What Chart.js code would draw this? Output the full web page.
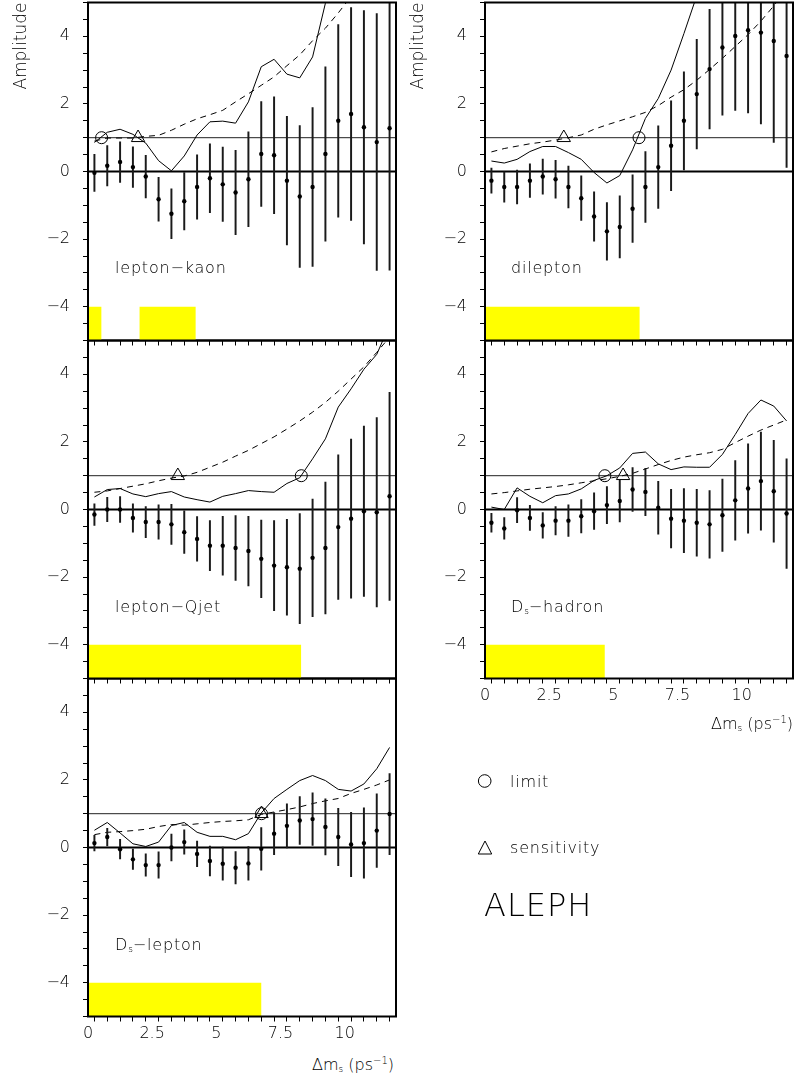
<!DOCTYPE html>
<html><head><meta charset="utf-8">
<script src="https://cdn.jsdelivr.net/npm/chart.js@4.4.1/dist/chart.umd.min.js"></script>
<style>
html,body{margin:0;padding:0;background:#fff;}
body{width:794px;height:1074px;position:relative;overflow:hidden;font-family:"DejaVu Sans",sans-serif;font-weight:200;color:#000;}
canvas{position:absolute;}
.lbl{position:absolute;font-size:16px;white-space:nowrap;letter-spacing:0.8px;line-height:16px;}
.lbl sub{font-size:9px;vertical-align:-2px;letter-spacing:0;}
.axt{position:absolute;font-size:16px;white-space:nowrap;line-height:16px;text-align:right;}
.axt sub{font-size:9px;vertical-align:-2px;}
.axt sup{font-size:10px;vertical-align:6px;}
.aleph{position:absolute;font-size:32px;line-height:32px;letter-spacing:1px;}
svg{position:absolute;overflow:visible;}
</style></head><body>

<div class="lbl" style="left:115px;top:260px">lepton−kaon</div>
<div class="lbl" style="left:511px;top:260px">dilepton</div>
<div class="lbl" style="left:115px;top:599px">lepton−Qjet</div>
<div class="lbl" style="left:511px;top:599px">D<sub>s</sub>−hadron</div>
<div class="lbl" style="left:115px;top:937px">D<sub>s</sub>−lepton</div>

<div class="axt" style="right:1px;top:712px">Δm<sub>s</sub> (ps<sup>−1</sup>)</div>
<div class="axt" style="right:400px;top:1053px">Δm<sub>s</sub> (ps<sup>−1</sup>)</div>

<svg style="left:0;top:0" width="794" height="1074">
  <circle cx="484.7" cy="781" r="6.3" fill="none" stroke="#000" stroke-width="1"/>
  <polygon points="485,841 478.3,854 491.7,854" fill="none" stroke="#000" stroke-width="1"/>
</svg>
<div class="lbl" style="left:510px;top:774px">limit</div>
<div class="lbl" style="left:510px;top:840px">sensitivity</div>
<div class="aleph" style="left:484px;top:889px">ALEPH</div>

<script>
// ---- data ----
const dms = [0.25,0.75,1.25,1.75,2.25,2.75,3.25,3.75,4.25,4.75,5.25,5.75,6.25,6.75,7.25,7.75,8.25,8.75,9.25,9.75,10.25,10.75,11.25,11.75];
const xTickValues = [0, 2.5, 5, 7.5, 10];
const xTickLabels = ['0', '2.5', '5', '7.5', '10'];
const yTickValues = [-4, -2, 0, 2, 4];
const yTickLabels = ['\u22124', '\u22122', '0', '2', '4'];

// lepton-kaon
const lkAmp   = [-0.04,0.17,0.28,0.13,-0.15,-0.82,-1.25,-0.88,-0.46,-0.20,-0.38,-0.62,-0.23,0.52,0.48,-0.27,-0.74,-0.46,0.52,1.50,1.70,1.31,0.87,1.28];
const lkErr   = [0.55,0.60,0.60,0.60,0.63,0.65,0.74,0.85,0.95,1.02,1.10,1.25,1.40,1.55,1.73,1.90,2.10,2.35,2.58,2.85,3.15,3.45,3.80,4.20];
const lkUpper = [0.86,1.16,1.25,1.10,0.84,0.32,0.02,0.46,1.08,1.47,1.49,1.43,2.06,3.10,3.32,2.88,2.77,3.39,4.98,6.20,6.90,7.00,7.10,8.20];
const lkSens  = [0.90,0.99,0.99,0.99,1.04,1.07,1.22,1.40,1.56,1.68,1.81,2.06,2.30,2.55,2.80,3.13,3.45,3.87,4.24,4.69,5.18,5.68,6.25,6.91];
const lkMarks = [0.53, 1.95];            // limit, sensitivity
const lkExcluded = [[0, 0.53], [2.0, 4.2]];

// dilepton
const dlAmp   = [-0.27,-0.46,-0.46,-0.27,-0.15,-0.23,-0.46,-0.79,-1.33,-1.77,-1.64,-1.10,-0.46,0.13,0.76,1.50,2.29,3.03,3.67,4.01,4.18,4.11,3.86,3.42];
const dlErr   = [0.37,0.45,0.50,0.50,0.52,0.56,0.62,0.66,0.73,0.85,0.92,1.00,1.05,1.22,1.33,1.45,1.62,1.77,2.00,2.20,2.45,2.70,3.00,3.30];
const dlUpper = [0.31,0.25,0.36,0.59,0.74,0.74,0.56,0.36,-0.03,-0.34,-0.12,0.64,1.57,2.16,3.00,4.08,5.20,5.94,6.96,7.60,8.20,8.50,8.80,8.85];
const dlSens  = [0.58,0.68,0.75,0.82,0.87,0.93,1.00,1.08,1.25,1.38,1.50,1.62,1.75,1.95,2.20,2.42,2.70,3.02,3.35,3.70,4.05,4.45,4.90,5.40];
const dlMarks = [6.0, 3.07];
const dlExcluded = [[0, 6.03]];

// lepton-Qjet
const lqAmp   = [-0.15,0.00,0.00,-0.25,-0.37,-0.37,-0.44,-0.67,-0.87,-1.07,-1.07,-1.14,-1.23,-1.46,-1.66,-1.71,-1.75,-1.43,-1.14,-0.52,-0.27,-0.05,-0.08,0.39];
const lqErr   = [0.32,0.36,0.38,0.42,0.46,0.51,0.59,0.63,0.66,0.74,0.87,0.96,1.03,1.15,1.33,1.42,1.63,1.74,1.95,2.14,2.35,2.52,2.80,3.08];
const lqUpper = [0.37,0.59,0.62,0.46,0.38,0.47,0.53,0.37,0.29,0.22,0.39,0.47,0.56,0.53,0.51,0.77,0.94,1.50,2.09,3.03,3.57,4.15,4.59,5.46];
const lqSens  = [0.51,0.55,0.62,0.69,0.76,0.85,0.93,0.99,1.10,1.25,1.40,1.58,1.75,1.95,2.15,2.38,2.62,2.88,3.17,3.50,3.86,4.22,4.65,5.10];
const lqMarks = [8.31, 3.5];
const lqExcluded = [[0, 8.31]];

// Ds-hadron
const dhAmp   = [-0.39,-0.56,-0.02,-0.25,-0.47,-0.33,-0.33,-0.20,-0.05,0.13,0.25,0.59,0.52,0.05,-0.27,-0.33,-0.39,-0.44,-0.17,0.27,0.62,0.84,0.54,-0.12];
const dhErr   = [0.28,0.32,0.37,0.37,0.38,0.42,0.47,0.49,0.54,0.55,0.62,0.65,0.70,0.78,0.87,0.95,0.99,1.00,1.07,1.18,1.32,1.45,1.51,1.62];
const dhUpper = [0.07,0.00,0.64,0.39,0.20,0.41,0.46,0.61,0.86,1.00,1.23,1.66,1.70,1.35,1.18,1.26,1.25,1.25,1.63,2.22,2.84,3.24,3.06,2.62];
const dhSens  = [0.46,0.50,0.55,0.60,0.64,0.68,0.73,0.79,0.85,0.91,0.98,1.07,1.20,1.33,1.45,1.55,1.62,1.68,1.78,1.98,2.17,2.35,2.50,2.65];
const dhMarks = [4.67, 5.38];
const dhExcluded = [[0, 4.67]];

// Ds-lepton
const dsAmp   = [0.13,0.31,-0.05,-0.35,-0.52,-0.52,0.00,0.16,-0.19,-0.40,-0.48,-0.60,-0.47,-0.04,0.41,0.64,0.80,0.84,0.61,0.31,0.09,0.13,0.50,0.99];
const dsErr   = [0.23,0.26,0.29,0.30,0.33,0.39,0.40,0.36,0.38,0.44,0.49,0.48,0.50,0.63,0.62,0.65,0.71,0.78,0.83,0.85,0.95,1.04,1.09,1.20];
const dsUpper = [0.51,0.74,0.43,0.11,0.03,0.16,0.65,0.74,0.45,0.33,0.33,0.23,0.41,1.02,1.45,1.72,1.98,2.13,1.98,1.72,1.67,1.88,2.33,2.96];
const dsSens  = [0.38,0.45,0.47,0.50,0.54,0.62,0.68,0.66,0.70,0.74,0.77,0.79,0.82,0.98,1.05,1.12,1.20,1.30,1.38,1.45,1.60,1.72,1.85,2.00];
const dsMarks = [6.76, 6.76];
const dsExcluded = [[0, 6.76]];

// ---- layout / style ----
const FONT = '"DejaVu Sans", sans-serif';
Chart.defaults.font.family = FONT;
Chart.defaults.font.size = 16;
Chart.defaults.font.weight = '200';
Chart.defaults.color = '#000';

const colLeft = [0, 397], colWidth = [400, 397], padRight = [4, 1];
const rowTop = [0, 338, 676];

const panels = [
  {amp: lkAmp, err: lkErr, upper: lkUpper, sens: lkSens, marks: lkMarks, excl: lkExcluded, col: 0, row: 0, xl: false, yt: true},
  {amp: dlAmp, err: dlErr, upper: dlUpper, sens: dlSens, marks: dlMarks, excl: dlExcluded, col: 1, row: 0, xl: false, yt: true},
  {amp: lqAmp, err: lqErr, upper: lqUpper, sens: lqSens, marks: lqMarks, excl: lqExcluded, col: 0, row: 1, xl: false, yt: false},
  {amp: dhAmp, err: dhErr, upper: dhUpper, sens: dhSens, marks: dhMarks, excl: dhExcluded, col: 1, row: 1, xl: true, yt: false},
  {amp: dsAmp, err: dsErr, upper: dsUpper, sens: dsSens, marks: dsMarks, excl: dsExcluded, col: 0, row: 2, xl: true, yt: false}
];

const framePlugin = {
  id: 'frame',
  afterDraw(chart) {
    const {ctx, chartArea: a} = chart;
    ctx.save();
    ctx.strokeStyle = '#000';
    ctx.lineWidth = 2;
    ctx.strokeRect(a.left, a.top, a.right - a.left, a.bottom - a.top);
    ctx.restore();
  }
};

function labelFor(values, labels, v) {
  const i = values.findIndex(t => Math.abs(t - v) < 1e-6);
  return i >= 0 ? labels[i] : '';
}

function buildDatasets(p) {
  const ds = [];
  ds.push({type: 'scatter', data: [{x: p.marks[0], y: 1}], pointStyle: 'circle', pointRadius: 6,
    borderColor: '#000', borderWidth: 1, backgroundColor: 'rgba(0,0,0,0)', order: 0});
  ds.push({type: 'scatter', data: [{x: p.marks[1], y: 1}], pointStyle: 'triangle', pointRadius: 7.7,
    borderColor: '#000', borderWidth: 1, backgroundColor: 'rgba(0,0,0,0)', order: 0});
  ds.push({type: 'scatter', data: dms.map((x, i) => ({x, y: p.amp[i]})), pointStyle: 'circle',
    pointRadius: 2.2, backgroundColor: '#000', borderWidth: 0, order: 1});
  ds.push({type: 'bar', data: dms.map((x, i) => ({x, y: [p.amp[i] - p.err[i], p.amp[i] + p.err[i]]})),
    backgroundColor: '#1a1a1a', borderWidth: 0, barThickness: 1.3, order: 2});
  ds.push({type: 'line', data: dms.map((x, i) => ({x, y: p.upper[i]})), borderColor: '#000',
    borderWidth: 1, pointRadius: 0, fill: false, tension: 0, order: 3});
  ds.push({type: 'line', data: dms.map((x, i) => ({x, y: p.sens[i]})), borderColor: '#000',
    borderWidth: 1, borderDash: [6, 5], pointRadius: 0, fill: false, tension: 0, order: 3});
  ds.push({type: 'line', data: [{x: 0, y: 1}, {x: 12, y: 1}], borderColor: '#222', borderWidth: 1,
    pointRadius: 0, fill: false, order: 4});
  ds.push({type: 'line', data: [{x: 0, y: 0}, {x: 12, y: 0}], borderColor: '#000', borderWidth: 2,
    pointRadius: 0, fill: false, order: 4});
  p.excl.forEach(r => ds.push({type: 'line', data: [{x: r[0], y: -4}, {x: r[1], y: -4}],
    borderWidth: 0, borderColor: 'rgba(0,0,0,0)', pointRadius: 0, fill: {value: -5},
    backgroundColor: '#ffff00', order: 5}));
  return ds;
}

panels.forEach((p, k) => {
  const xh = p.xl ? 31.5 : 8.5;
  const H = p.xl ? 372 : 349;
  const cv = document.createElement('canvas');
  cv.width = colWidth[p.col];
  cv.height = H;
  cv.style.left = colLeft[p.col] + 'px';
  cv.style.top = rowTop[p.row] + 'px';
  cv.style.width = colWidth[p.col] + 'px';
  cv.style.height = H + 'px';
  document.body.insertBefore(cv, document.body.firstChild);
  new Chart(cv.getContext('2d'), {
    type: 'scatter',
    data: {datasets: buildDatasets(p)},
    options: {
      responsive: false, animation: false, devicePixelRatio: 1, events: [],
      layout: {autoPadding: false, padding: {top: 2.5, right: padRight[p.col], left: 0, bottom: 0}},
      plugins: {legend: {display: false}, tooltip: {enabled: false}},
      scales: {
        x: {
          type: 'linear', min: 0, max: 12, offset: false,
          afterFit: s => { s.height = xh; s.paddingLeft = 0; s.paddingRight = 0; s.paddingTop = 0; s.paddingBottom = 0; },
          border: {display: false},
          grid: {drawOnChartArea: false, drawTicks: true, tickLength: 5, color: '#000', lineWidth: 1},
          ticks: {stepSize: 0.5, autoSkip: false, maxRotation: 0, minRotation: 0, padding: 3,
            font: {size: 16, family: FONT, weight: '200'},
            callback: v => p.xl ? labelFor(xTickValues, xTickLabels, v) : ''}
        },
        y: {
          type: 'linear', min: -5, max: 5,
          afterFit: s => { s.width = 88; s.paddingTop = 0; s.paddingBottom = 0; s.paddingLeft = 0; s.paddingRight = 0; },
          border: {display: false},
          grid: {drawOnChartArea: false, drawTicks: true, tickLength: 5, color: '#000', lineWidth: 1},
          ticks: {stepSize: 0.5, autoSkip: false, padding: 13,
            font: {size: 16, family: FONT, weight: '200'},
            callback: v => labelFor(yTickValues, yTickLabels, v)},
          title: {display: p.yt, text: 'Amplitude', align: 'end',
            font: {size: 17, family: FONT, weight: '200'}, padding: {top: 11, bottom: 0}}
        }
      }
    },
    plugins: [framePlugin]
  });
});
</script>
</body></html>
